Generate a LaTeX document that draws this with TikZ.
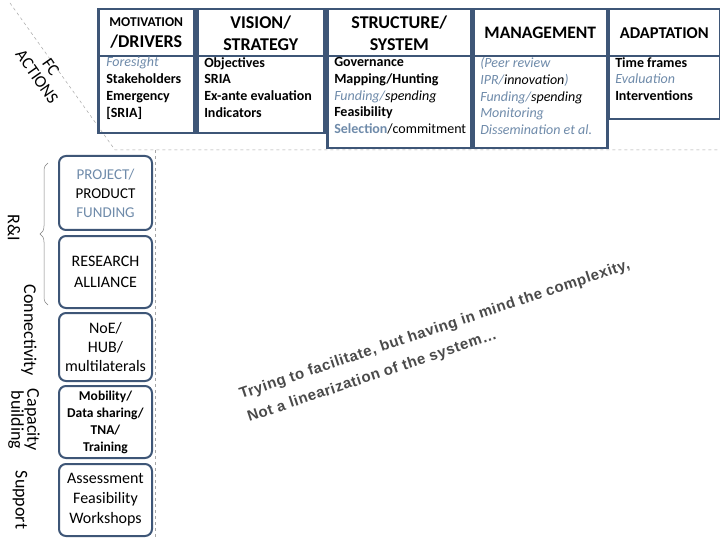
\documentclass[tikz,border=0pt]{standalone}
\usepackage{fontspec}
\setmainfont{Carlito}
\setsansfont{Liberation Sans}
\usetikzlibrary{decorations.pathreplacing}
\definecolor{bd}{HTML}{3E5677}
\definecolor{lb}{HTML}{6F8BAA}
\definecolor{gt}{HTML}{4A4A4A}
\begin{document}
\begin{tikzpicture}[x=1pt,y=-1pt,
  hd/.style={draw=bd,line width=2.5pt,align=center,inner sep=0pt,anchor=north west,minimum height=47pt},
  bx/.style={draw=bd,line width=2.5pt,align=left,anchor=north west,inner sep=0pt},
  rb/.style={draw=bd,line width=2pt,rounded corners=7pt,align=center,inner sep=0pt,minimum width=93pt,anchor=north west},
  dl/.style={dashed,gray!70,line width=0.5pt},
  side/.style={rotate=-90,align=center,font=\fontsize{18}{16}\selectfont}]
\useasboundingbox (0,0) rectangle (720,540);
\fill[white] (0,0) rectangle (720,540);
% dashed guides
\coordinate (d0) at (10,3); \coordinate (d1) at (115,150); \coordinate (d2) at (720,150); \coordinate (d3) at (155,150); \coordinate (d4) at (155,540);
\draw[dl] (d0) -- (d1) -- (d2);
\draw[dl] (d3) -- (d4);
% column boxes
\node[hd,minimum width=96pt] (h1) at (97,8) {\parbox{94pt}{\centering\bfseries\fontsize{13.5}{13}\selectfont MOTIVATION\\[3pt]\fontsize{18}{18}\selectfont /DRIVERS}};
\node[bx,minimum width=96pt,minimum height=77pt] (b1) at (97,55) {\parbox[t][75pt][t]{92pt}{\fontsize{14}{16.8}\selectfont\bfseries\hspace*{6pt}\textcolor{lb}{\mdseries\itshape Foresight}\\\hspace*{6pt}Stakeholders\\\hspace*{6pt}Emergency\\\hspace*{6pt}[SRIA]}};
\node[hd,minimum width=127pt,font=\bfseries\fontsize{18}{22}\selectfont] (h2) at (196,8) {VISION/\\STRATEGY};
\node[bx,minimum width=127pt,minimum height=77pt] (b2) at (196,55) {\parbox[t][75pt][t]{123pt}{\fontsize{14}{16.8}\selectfont\bfseries\hspace*{5pt}Objectives\\\hspace*{5pt}SRIA\\\hspace*{5pt}Ex-ante evaluation\\\hspace*{5pt}Indicators}};
\node[hd,minimum width=144pt,font=\bfseries\fontsize{18}{22}\selectfont] (h3) at (326,8) {STRUCTURE/\\SYSTEM};
\node[bx,minimum width=144pt,minimum height=92pt] (b3) at (326,55) {\parbox[t][90pt][t]{140pt}{\fontsize{14}{16.8}\selectfont\hspace*{5pt}\textbf{Governance}\\\hspace*{5pt}\textbf{Mapping/Hunting}\\\hspace*{5pt}\textit{\textcolor{lb}{Funding/}spending}\\\hspace*{5pt}\textbf{Feasibility}\\\hspace*{5pt}\textbf{\textcolor{lb}{Selection}}/commitment}};
\node[hd,minimum width=134pt,font=\bfseries\fontsize{17.5}{14}\selectfont] (h4) at (472,8) {MANAGEMENT};
\node[bx,minimum width=134pt,minimum height=92pt] (b4) at (472,55) {\parbox[t][90pt][t]{130pt}{\fontsize{14}{16.8}\selectfont\itshape\hspace*{5pt}\textcolor{lb}{(Peer review}\\\hspace*{5pt}\textcolor{lb}{IPR/}innovation\textcolor{lb}{)}\\\hspace*{5pt}\textcolor{lb}{Funding/}spending\\\hspace*{5pt}\textcolor{lb}{Monitoring}\\\hspace*{5pt}\textcolor{lb}{Dissemination et al.}}};
\node[hd,minimum width=112pt,font=\bfseries\fontsize{16.5}{14}\selectfont] (h5) at (607,8) {ADAPTATION};
\node[bx,minimum width=112pt,minimum height=63pt] (b5) at (607,55) {\parbox[t][61pt][t]{108pt}{\fontsize{14}{16.8}\selectfont\hspace*{5pt}\textbf{Time frames}\\\hspace*{5pt}\textcolor{lb}{\itshape Evaluation}\\\hspace*{5pt}\textbf{Interventions}}};
% FC actions
\node[rotate=-55,align=center,font=\fontsize{17}{17}\selectfont] (fc) at (44,72) {FC\\ACTIONS};
% left boxes
\node[rb,minimum height=74pt,font=\fontsize{15}{19}\selectfont] (p1) at (58,155) {\textcolor{lb}{PROJECT/}\\PRODUCT\\\textcolor{lb}{FUNDING}};
\node[rb,minimum height=72pt,font=\fontsize{16}{21}\selectfont] (p2) at (58,235) {RESEARCH\\ALLIANCE};
\node[rb,minimum height=68pt,font=\fontsize{16}{19}\selectfont] (p3) at (58,312) {NoE/\\HUB/\\multilaterals};
\node[rb,minimum height=72pt,font=\bfseries\fontsize{13.5}{17}\selectfont] (p4) at (58,385) {Mobility/\\Data sharing/\\TNA/\\Training};
\node[rb,minimum height=72pt,font=\fontsize{16}{20}\selectfont] (p5) at (58,463) {Assessment\\Feasibility\\Workshops};
\coordinate (br1) at (48,163); \coordinate (br2) at (48,305);
\draw[gray,line width=0.5pt,decorate,decoration={brace,amplitude=8pt,mirror}] (br1) -- (br2);
\node[side] (ri) at (14,228) {R\&I};
\node[side] (cn) at (29,330) {Connectivity};
\node[side] (cb) at (24,420) {Capacity\\building};
\node[side] (su) at (20,500) {Support};
% diagonal text
\node[rotate=18.5,anchor=base west,text=gt,font=\fontsize{15}{22}\sffamily\bfseries\addfontfeatures{LetterSpace=4}] (t1) at (238,400) {Trying to facilitate, but having in mind the complexity,};
\node[rotate=18.5,anchor=base west,text=gt,font=\fontsize{15}{22}\sffamily\bfseries\addfontfeatures{LetterSpace=4}] (t2) at (246,423) {Not a linearization of the system…};
\end{tikzpicture}
\end{document}
